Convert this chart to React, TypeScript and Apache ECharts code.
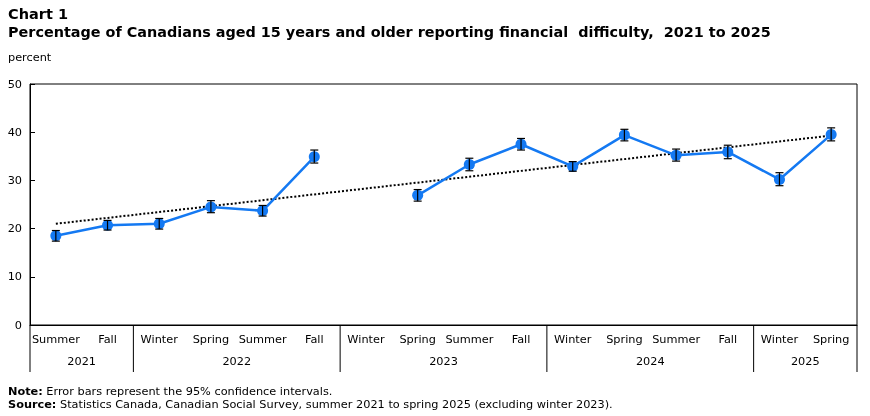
import React, { useEffect, useRef } from "react";
import * as echarts from "echarts";

const seasons = ["Summer", "Fall", "Winter", "Spring", "Summer", "Fall", "Winter", "Spring", "Summer", "Fall", "Winter", "Spring", "Summer", "Fall", "Winter", "Spring"];
const values = [18.5, 20.7, 21.0, 24.5, 23.7, 34.9, null, 26.9, 33.3, 37.5, 32.9, 39.4, 35.2, 35.9, 30.2, 39.5];
const lower = [17.4, 19.7, 19.9, 23.3, 22.6, 33.6, null, 25.7, 32.0, 36.3, 31.9, 38.2, 34.0, 34.5, 28.9, 38.2];
const upper = [19.6, 21.7, 22.1, 25.8, 24.8, 36.3, null, 28.1, 34.6, 38.7, 33.9, 40.6, 36.5, 37.3, 31.6, 40.9];
const years = ["2021", "2022", "2023", "2024", "2025"];
const yearStart = [0, 2, 6, 10, 14];
const yearEnd = [1, 5, 9, 13, 15];
const trendStart = 21.0;
const trendEnd = 39.3;
const yTicks = [0, 10, 20, 30, 40, 50];

const FONT = "DejaVu Sans";
const BLUE = "#1479f2";
const FS = 11.3;

export default function App() {
  const ref = useRef<HTMLDivElement>(null);
  useEffect(() => {
    if (!ref.current) return;
    const chart = echarts.init(ref.current, undefined, { renderer: "svg" });
    const errData = values
      .map((v, i) => (v == null ? null : [i, lower[i], upper[i]]))
      .filter((d) => d != null);
    const yearData = years.map((y, i) => [yearStart[i], yearEnd[i], 0]);
    const trendData = values.map((v, i) => (i === 0 ? trendStart : i === values.length - 1 ? trendEnd : null));
    chart.setOption({
      animation: false,
      textStyle: { fontFamily: FONT, color: "#000" },
      graphic: [
        { type: "text", left: 8, top: 6, style: { text: "Chart 1", font: `bold 14.5px '${FONT}'`, fill: "#000" } },
        {
          type: "text", left: 8, top: 25,
          style: { text: "Percentage of Canadians aged 15 years and older reporting financial  difficulty,  2021 to 2025", font: `bold 14.4px '${FONT}'`, fill: "#000" },
        },
        { type: "text", left: 8, top: 52, style: { text: "percent", font: `${FS}px '${FONT}'`, fill: "#000" } },
        {
          type: "text", left: 8, top: 386,
          style: {
            text: "{b|Note:} Error bars represent the 95% confidence intervals.",
            font: `${FS}px '${FONT}'`, fill: "#000",
            rich: { b: { fontWeight: "bold", fontSize: FS, fontFamily: FONT } },
          },
        },
        {
          type: "text", left: 8, top: 399,
          style: {
            text: "{b|Source:} Statistics Canada, Canadian Social Survey, summer 2021 to spring 2025 (excluding winter 2023).",
            font: `${FS}px '${FONT}'`, fill: "#000",
            rich: { b: { fontWeight: "bold", fontSize: FS, fontFamily: FONT } },
          },
        },
      ],
      grid: { left: 30, right: 13, top: 84, bottom: 91, show: true, borderColor: "#000", borderWidth: 1, containLabel: false },
      xAxis: {
        type: "category",
        data: seasons,
        boundaryGap: true,
        axisLine: { lineStyle: { color: "#000", width: 1 } },
        axisTick: { alignWithLabel: true, inside: true, length: 3, lineStyle: { color: "#000" } },
        axisLabel: { interval: 0, fontSize: FS, color: "#000", margin: 9, fontFamily: FONT },
      },
      yAxis: {
        type: "value",
        min: yTicks[0],
        max: yTicks[yTicks.length - 1],
        interval: 10,
        splitLine: { show: false },
        axisLine: { show: true, lineStyle: { color: "#000", width: 1 } },
        axisTick: { show: true, inside: true, length: 5, lineStyle: { color: "#000" } },
        axisLabel: { fontSize: FS, color: "#000", margin: 8, fontFamily: FONT },
      },
      series: [
        {
          type: "line",
          data: trendData,
          connectNulls: true,
          symbol: "none",
          silent: true,
          lineStyle: { color: "#000", width: 2, type: [2, 2] },
          z: 3,
        },
        {
          type: "line",
          data: values,
          connectNulls: false,
          symbol: "circle",
          symbolSize: 11,
          itemStyle: { color: BLUE },
          lineStyle: { color: BLUE, width: 2.5 },
          z: 4,
        },
        {
          type: "custom",
          data: errData,
          encode: { x: 0, y: [1, 2] },
          z: 5,
          silent: true,
          renderItem: (params: any, api: any) => {
            const lo = api.coord([api.value(0), api.value(1)]);
            const hi = api.coord([api.value(0), api.value(2)]);
            const w = 4;
            const st = { stroke: "#000", lineWidth: 1.2 };
            return {
              type: "group",
              children: [
                { type: "line", shape: { x1: lo[0], y1: lo[1], x2: hi[0], y2: hi[1] }, style: st },
                { type: "line", shape: { x1: lo[0] - w, y1: lo[1], x2: lo[0] + w, y2: lo[1] }, style: st },
                { type: "line", shape: { x1: hi[0] - w, y1: hi[1], x2: hi[0] + w, y2: hi[1] }, style: st },
              ],
            };
          },
        },
        {
          type: "custom",
          data: yearData,
          encode: { x: [0, 1], y: 2 },
          clip: false,
          silent: true,
          z: 6,
          renderItem: (params: any, api: any) => {
            const bw = api.size([1, 0])[0];
            const p0 = api.coord([api.value(0), 0]);
            const p1 = api.coord([api.value(1), 0]);
            const left = p0[0] - bw / 2;
            const right = p1[0] + bw / 2;
            const y0 = p0[1];
            const st = { stroke: "#000", lineWidth: 1 };
            const children: any[] = [
              { type: "line", shape: { x1: left, y1: y0, x2: left, y2: y0 + 47 }, style: st },
              {
                type: "text",
                x: (left + right) / 2,
                y: y0 + 36,
                style: { text: years[params.dataIndex], fill: "#000", font: `${FS}px '${FONT}'`, align: "center", verticalAlign: "middle" },
              },
            ];
            if (params.dataIndex === years.length - 1) {
              children.push({ type: "line", shape: { x1: right, y1: y0, x2: right, y2: y0 + 47 }, style: st });
            }
            return { type: "group", children };
          },
        },
      ],
    });
    return () => chart.dispose();
  }, []);
  return <div ref={ref} style={{ position: "fixed", left: 0, top: 0, width: 870, height: 416 }} />;
}
